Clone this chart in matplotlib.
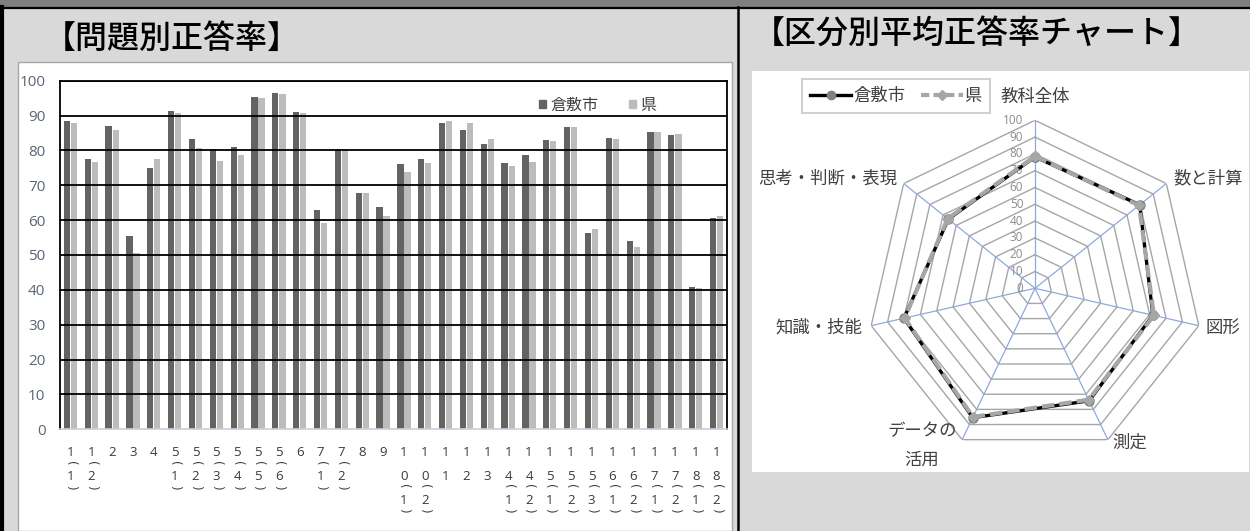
import numpy as np
import matplotlib.pyplot as plt
from matplotlib.lines import Line2D
from matplotlib.patches import Rectangle, Patch
import matplotlib.transforms as mtransforms

plt.rcParams['font.family'] = ['Noto Sans CJK JP', 'DejaVu Sans']

# 問題別正答率 (%)
questions = ['1(1)', '1(2)', '2', '3', '4', '5(1)', '5(2)', '5(3)', '5(4)', '5(5)', '5(6)',
             '6', '7(1)', '7(2)', '8', '9', '10(1)', '10(2)', '11', '12', '13',
             '14(1)', '14(2)', '15(1)', '15(2)', '15(3)', '16(1)', '16(2)',
             '17(1)', '17(2)', '18(1)', '18(2)']
city = [88.5, 77.4, 87.0, 55.4, 75.1, 91.3, 83.4, 80.4, 80.9, 95.3, 96.6,
        91.1, 62.8, 80.4, 67.8, 63.8, 76.0, 77.4, 87.8, 86.0, 81.7,
        76.4, 78.7, 83.0, 86.8, 56.2, 83.7, 54.1, 85.2, 84.3, 40.9, 60.5]
pref = [88.0, 76.6, 86.0, 50.6, 77.6, 90.8, 80.6, 76.9, 78.6, 94.9, 96.3,
        90.8, 59.2, 80.4, 67.8, 61.3, 73.7, 76.4, 88.3, 88.0, 83.2,
        75.4, 76.6, 82.6, 86.6, 57.5, 83.4, 52.2, 85.2, 84.7, 40.4, 61.2]
series_names = ['倉敷市', '県']

# 区分別平均正答率
areas = ['教科全体', '数と計算', '図形', '測定', 'データの\n活用', '知識・技能', '思考・判断・表現']
city_r = [78.2, 79.7, 72.0, 74.3, 85.5, 80.0, 66.0]
pref_r = [78.6, 79.2, 72.6, 73.6, 85.0, 79.6, 66.5]

W, H = 1250, 531
def fx(x):
    return x / W
def fy(y):
    return 1 - y / H

fig = plt.figure(figsize=(W / 100, H / 100), dpi=100)
fig.patch.set_facecolor('#d9d9d9')

# frame / panels (behind the axes)
fig.add_artist(Rectangle((0, fy(7)), 1, 7 / H, transform=fig.transFigure, color='#7f7f7f',
                         lw=0, zorder=-5))
fig.add_artist(Line2D([0, 1], [fy(7.5), fy(7.5)], transform=fig.transFigure, color='black',
                      lw=1.6, zorder=-4))
fig.add_artist(Line2D([fx(2), fx(2)], [0, fy(7)], transform=fig.transFigure, color='black',
                      lw=3, zorder=-4))
fig.add_artist(Line2D([fx(738), fx(738)], [0, fy(7)], transform=fig.transFigure, color='black',
                      lw=1.8, zorder=-4))
fig.add_artist(Rectangle((fx(18), 0), fx(731.7) - fx(18), fy(62), transform=fig.transFigure,
                         facecolor='white', edgecolor='#a6a6a6', lw=1, zorder=-5))
fig.add_artist(Rectangle((fx(751.7), fy(471.7)), fx(1249) - fx(751.7), (471.7 - 70.7) / H,
                         transform=fig.transFigure, facecolor='white', edgecolor='none',
                         zorder=-5))

fig.text(fx(172), fy(39), '【問題別正答率】', fontsize=23, ha='center', va='center',
         weight='medium')
fig.text(fx(977), fy(34), '【区分別平均正答率チャート】', fontsize=23, ha='center', va='center',
         weight='medium')

# ---- bar chart ----
ax = fig.add_axes([fx(60), fy(429.3), fx(727) - fx(60), (429.3 - 80.7) / H])
ax.set_facecolor('none')
x = np.arange(len(questions))
w = 0.3
ax.bar(x - 0.17, city, w, color='#636363')
ax.bar(x + 0.17, pref, w, color='#bcbcbc')
ax.set_xlim(-0.5, len(questions) - 0.5)
ax.set_ylim(0, 100)
ax.set_yticks(range(0, 101, 10))
ax.yaxis.grid(True, color='black', lw=1.3)
ax.get_ygridlines()[0].set_visible(False)
for s in ['top', 'left', 'right']:
    ax.spines[s].set_color('black')
    ax.spines[s].set_linewidth(1.3)
ax.spines['bottom'].set_color('#c8d0da')
ax.spines['bottom'].set_linewidth(1.2)
ax.tick_params(axis='y', length=0, pad=10.5, labelsize=11, labelcolor='#5a6577')
for t in ax.get_yticklabels():
    t.set_family('Open Sans')
ax.set_xticks(x)
ax.set_xticklabels([])
ax.tick_params(axis='x', length=0)

# vertical tick labels (Excel style)
trans = mtransforms.blended_transform_factory(ax.transData, fig.transFigure)
lab_kw = dict(transform=trans, ha='center', va='center', fontsize=9.5, color='#3a3a3a',
              family='Open Sans')
arc_kw = dict(transform=trans, rotation=-90, ha='center', va='center', fontsize=8.5,
              color='#3a3a3a', family='DejaVu Sans')
for i, q in enumerate(questions):
    if '(' in q:
        main, sub = q[:-1].split('(')
    else:
        main, sub = q, ''
    y = 453
    for j, ch in enumerate(main):
        y = 453 + 23.5 * j
        ax.text(i, fy(y), ch, **lab_kw)
    if sub:
        ax.text(i, fy(y + 10), '(', **arc_kw)
        ax.text(i, fy(y + 24), sub, **lab_kw)
        ax.text(i, fy(y + 34), ')', **arc_kw)

ax.legend(handles=[Patch(color='#636363'), Patch(color='#bcbcbc')], labels=series_names,
          loc='center left', bbox_to_anchor=(fx(539), fy(105)), bbox_transform=fig.transFigure,
          ncol=2, frameon=False, fontsize=11.5, handlelength=0.42, handleheight=0.42,
          handletextpad=0.3, columnspacing=1.9, borderpad=0, borderaxespad=0,
          labelcolor='#404040')

# ---- radar chart ----
R = 168
cx, cy = 1035, 288.3
rax = fig.add_axes([fx(cx - R), fy(cy + R), 2 * R / W, 2 * R / H], projection='polar')
rax.set_theta_zero_location('N')
rax.set_theta_direction(-1)
rax.set_ylim(0, 100)
rax.grid(False)
rax.spines['polar'].set_visible(False)
rax.set_xticks([])
rax.set_yticks([])
rax.patch.set_alpha(0)

n = len(areas)
ang = np.linspace(0, 2 * np.pi, n, endpoint=False)
ang_c = np.append(ang, ang[0])
for r in range(10, 101, 10):
    rax.plot(ang_c, [r] * (n + 1), color='#a6a6a6', lw=1)
for a in ang:
    rax.plot([a, a], [0, 100], color='#8eaadb', lw=0.9)
for r in range(0, 101, 10):
    rax.annotate(str(r), xy=(0, r), xytext=(-8.5, 0), textcoords='offset points',
                 ha='right', va='center', fontsize=8.5, color='#8c8c8c', family='Open Sans')

rax.plot(ang_c, city_r + city_r[:1], color='black', lw=2.4, marker='o', ms=6.5,
         mfc='#808080', mec='#808080', zorder=4)
rax.plot(ang_c, pref_r + pref_r[:1], color='#a6a6a6', lw=3, ls=(0, (3, 1.2)), marker='D',
         ms=5, mfc='#a6a6a6', mec='#a6a6a6', zorder=5)

offsets = [(0, 16.5, 'center'), (5, 3.5, 'left'), (5, -1.5, 'left'), (3, -2.5, 'left'),
           (-4, -4, 'right'), (-6.5, -1.5, 'right'), (-4.5, 3.5, 'right')]
for a, name, (dx, dy, ha) in zip(ang, areas, offsets):
    rax.annotate(name, xy=(a, 100), xytext=(dx, dy), textcoords='offset points',
                 ha=ha, va='center', fontsize=12.5, color='#404040',
                 multialignment='center', linespacing=1.75, annotation_clip=False)

leg_handles = [Line2D([], [], color='black', lw=2.4, marker='o', ms=6, mfc='#808080', mec='#808080'),
               Line2D([], [], color='#a6a6a6', lw=3, ls=(0, (2, 1)), marker='D', ms=5,
                      mfc='#a6a6a6', mec='#a6a6a6')]
leg = fig.legend(leg_handles, series_names, loc='center left', bbox_to_anchor=(fx(802), fy(96)),
                 ncol=2, frameon=True, fancybox=False, edgecolor='#bfbfbf', fontsize=12.5,
                 handlelength=2.4, handletextpad=0.1, columnspacing=0.9, borderpad=0.45,
                 borderaxespad=0, labelcolor='#404040')
leg.get_frame().set_linewidth(1.3)

fig.savefig('out.png', dpi=100, facecolor=fig.get_facecolor())
